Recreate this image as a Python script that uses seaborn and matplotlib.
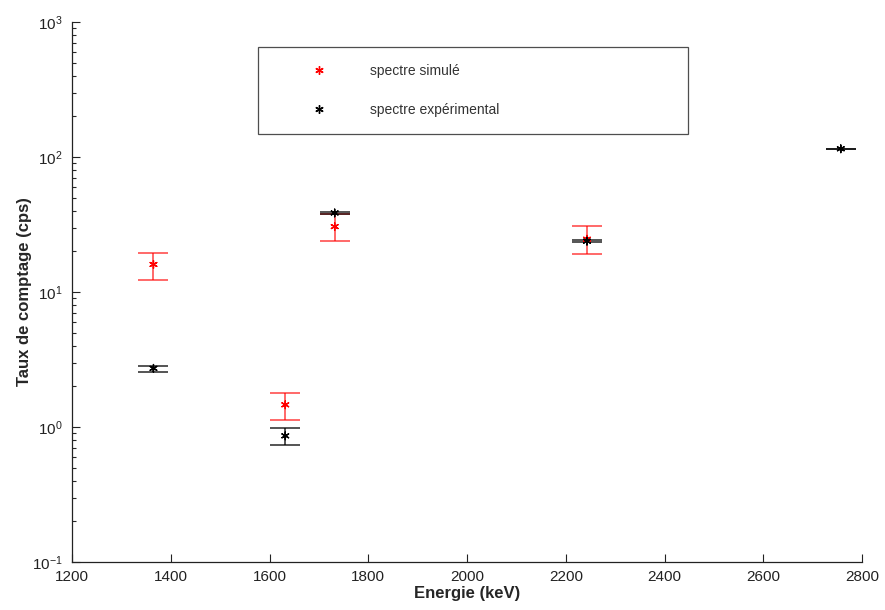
import numpy as np
import pandas as pd
import seaborn as sns
from matplotlib import pyplot as plt
from matplotlib.lines import Line2D

# values
energies_sim = [1365, 1632, 1732, 2243]
rate_sim = [16.0, 1.46, 30.5, 24.6]
rate_sim_low = [12.3, 1.13, 24.0, 19.2]
rate_sim_high = [19.5, 1.79, 37.8, 30.7]

energies_exp = [1365, 1632, 1732, 2243, 2757]
rate_exp = [2.72, 0.86, 38.5, 23.8, 115.0]
rate_exp_low = [2.55, 0.73, 38.0, 23.4, 114.5]
rate_exp_high = [2.83, 0.98, 39.0, 24.2, 115.5]

x_ticks = [1200, 1400, 1600, 1800, 2000, 2200, 2400, 2600, 2800]
labels = ["spectre simulé", "spectre expérimental"]
colors = ["#ff0000", "#000000"]

sns.set_style("ticks")
plt.rcParams["font.family"] = ["Liberation Sans", "DejaVu Sans"]
plt.rcParams["mathtext.default"] = "regular"

sim = pd.DataFrame({"energie": energies_sim, "taux": rate_sim,
                    "low": rate_sim_low, "high": rate_sim_high,
                    "serie": labels[0]})
exp = pd.DataFrame({"energie": energies_exp, "taux": rate_exp,
                    "low": rate_exp_low, "high": rate_exp_high,
                    "serie": labels[1]})
data = pd.concat([sim, exp], ignore_index=True)

fig = plt.figure(figsize=(8.85, 6.1), dpi=100)
ax = fig.add_axes([72 / 885, 48 / 610, 790 / 885, 540 / 610])

for df, col in zip([sim, exp], colors):
    yerr = np.vstack([df["taux"] - df["low"], df["high"] - df["taux"]])
    ax.errorbar(df["energie"], df["taux"], yerr=yerr, fmt="none",
                ecolor=col, elinewidth=1.1, capsize=11, capthick=1.1,
                alpha=0.75 if col != "#000000" else 0.85, zorder=2)

sns.scatterplot(data=data, x="energie", y="taux", hue="serie",
                palette=colors, marker=(6, 2, 0), s=30, linewidth=1.0,
                legend=False, ax=ax, zorder=3)

ax.set_yscale("log")
ax.set_xlim(1200, 2800)
ax.set_ylim(0.1, 1000)
ax.set_xticks(x_ticks)
ax.set_xticklabels([str(t) for t in x_ticks])
ax.set_xlabel("Energie (keV)", fontsize=12, fontweight="bold", labelpad=1)
ax.set_ylabel("Taux de comptage (cps)", fontsize=12, fontweight="bold", labelpad=0)

ax.tick_params(axis="both", which="major", direction="in", length=6,
               width=0.8, labelsize=11, colors="#222222")
ax.tick_params(axis="x", which="major", pad=6)
ax.tick_params(axis="y", which="major", pad=7)
ax.tick_params(axis="y", which="minor", direction="in", length=3, width=0.8)
for side in ["top", "right"]:
    ax.spines[side].set_visible(False)
for side in ["left", "bottom"]:
    ax.spines[side].set_linewidth(0.9)
    ax.spines[side].set_color("#222222")

handles = [Line2D([], [], linestyle="none", marker=(6, 2, 0), markersize=6,
                  markeredgewidth=1.0, color=c) for c in colors]
leg = ax.legend(handles, labels, loc="upper left",
                bbox_to_anchor=(0.235, 0.954, 0.545, 0), mode="expand",
                fontsize=10, frameon=True, fancybox=False, edgecolor="#222222",
                handlelength=6.3, handletextpad=0.55, borderpad=1.25,
                labelspacing=1.75, borderaxespad=0, markerscale=1)
leg.get_frame().set_linewidth(0.9)
for t in leg.get_texts():
    t.set_color("#333333")

fig.savefig("out.png", dpi=100)
